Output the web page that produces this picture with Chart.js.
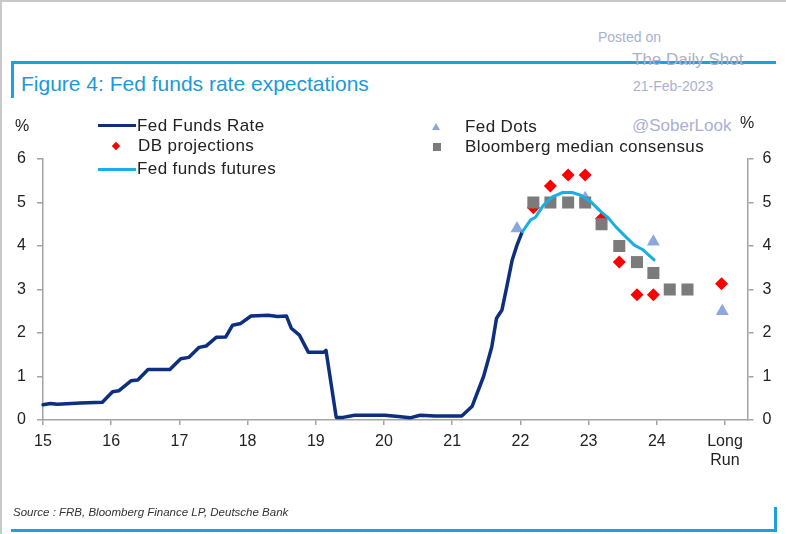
<!DOCTYPE html>
<html>
<head>
<meta charset="utf-8">
<script src="https://cdn.jsdelivr.net/npm/chart.js@4/dist/chart.umd.min.js"></script>
<style>
  html, body { margin: 0; padding: 0; background: #fff; }
  #wrap { position: relative; width: 786px; height: 534px; overflow: hidden; font-family: "Liberation Sans", Arial, sans-serif; }
  #c { position: absolute; left: 0; top: 0; }
  .t { position: absolute; white-space: nowrap; line-height: 1; }
  .bar { position: absolute; }
  .leg { font-size: 17px; color: #222; letter-spacing: 0.4px; }
  .wm { color: #aab0d2; }
</style>
</head>
<body>
<div id="wrap">
  <!-- outer light frame -->
  <div class="bar" style="left:0;top:0;width:786px;height:2px;background:#c8c8c8;"></div>
  <div class="bar" style="left:0;top:0;width:2px;height:534px;background:#c8c8c8;"></div>

  <!-- blue title frame -->
  <div class="bar" style="left:11px;top:61px;width:765px;height:3px;background:#1ba1e2;"></div>
  <div class="bar" style="left:11px;top:61px;width:3px;height:37px;background:#1ba1e2;"></div>
  <div class="t" style="left:21px;top:73px;font-size:21px;color:#1b9ad8;">Figure 4: Fed funds rate expectations</div>

  <!-- watermark -->
  <div class="t wm" style="left:598px;top:30px;font-size:14px;">Posted on</div>
  <div class="t wm" style="left:632px;top:51px;font-size:17px;">The Daily Shot</div>
  <div class="t wm" style="left:633px;top:79px;font-size:14px;">21-Feb-2023</div>
  <div class="t wm" style="left:632px;top:117px;font-size:17px;">@SoberLook</div>

  <canvas id="c" width="786" height="534"></canvas>

  <!-- unit labels -->
  <div class="t" style="left:15px;top:118px;font-size:16px;color:#222;">%</div>
  <div class="t" style="left:740px;top:115px;font-size:16px;color:#222;">%</div>

  <!-- legend -->
  <div class="bar" style="left:98px;top:124px;width:38px;height:3px;background:#0d2f7e;"></div>
  <div class="t leg" style="left:137px;top:117px;">Fed Funds Rate</div>
  <div class="bar" style="left:113px;top:143px;width:6px;height:6px;background:#ff0000;transform:rotate(45deg);"></div>
  <div class="t leg" style="left:138px;top:137px;">DB projections</div>
  <div class="bar" style="left:98px;top:168px;width:38px;height:3px;background:#1aaee8;"></div>
  <div class="t leg" style="left:137px;top:160px;">Fed funds futures</div>

  <div class="bar" style="left:432px;top:123px;width:0;height:0;border-left:4px solid transparent;border-right:4px solid transparent;border-bottom:7px solid #8ba7dd;"></div>
  <div class="t leg" style="left:465px;top:118px;">Fed Dots</div>
  <div class="bar" style="left:433px;top:143px;width:8px;height:8px;background:#7b7b7b;"></div>
  <div class="t leg" style="left:465px;top:138px;">Bloomberg median consensus</div>

  <!-- source and bottom frame -->
  <div class="t" style="left:13px;top:507px;font-size:11.5px;font-style:italic;color:#333;">Source : FRB, Bloomberg Finance LP, Deutsche Bank</div>
  <div class="bar" style="left:11px;top:529px;width:766px;height:3px;background:#1ba1e2;"></div>
  <div class="bar" style="left:774px;top:507px;width:3px;height:25px;background:#1ba1e2;"></div>
</div>

<script>
// ---------- data ----------
const xTickValues = [15, 16, 17, 18, 19, 20, 21, 22, 23, 24, 25];
const xTickLabels = ['15', '16', '17', '18', '19', '20', '21', '22', '23', '24', 'Long Run'];
const yTickValues = [0, 1, 2, 3, 4, 5, 6];

const ffrX = [15.0, 15.11, 15.21, 15.55, 15.87, 16.02, 16.11, 16.29, 16.39, 16.54, 16.86, 17.02, 17.14, 17.29, 17.39, 17.54, 17.68, 17.78, 17.90, 18.05, 18.30, 18.44, 18.57, 18.64, 18.76, 18.89, 19.12, 19.15, 19.30, 19.40, 19.57, 20.01, 20.21, 20.38, 20.53, 20.75, 21.14, 21.29, 21.46, 21.58, 21.65, 21.73, 21.80, 21.88, 21.95, 22.02];
const ffrY = [0.35, 0.38, 0.36, 0.39, 0.41, 0.65, 0.67, 0.90, 0.92, 1.16, 1.16, 1.41, 1.44, 1.67, 1.70, 1.90, 1.91, 2.18, 2.22, 2.39, 2.41, 2.38, 2.39, 2.11, 1.95, 1.56, 1.56, 1.60, 0.06, 0.06, 0.11, 0.11, 0.08, 0.05, 0.11, 0.09, 0.09, 0.31, 1.00, 1.68, 2.34, 2.53, 3.06, 3.68, 4.02, 4.30];

const futX = [22.03, 22.15, 22.22, 22.34, 22.47, 22.62, 22.76, 22.88, 23.03, 23.18, 23.28, 23.40, 23.52, 23.67, 23.79, 23.96];
const futY = [4.33, 4.60, 4.66, 4.94, 5.13, 5.23, 5.23, 5.17, 5.02, 4.79, 4.66, 4.44, 4.25, 4.02, 3.92, 3.68];

const dbX = [22.19, 22.44, 22.70, 22.95, 23.19, 23.45, 23.71, 23.95, 24.95];
const dbY = [4.88, 5.38, 5.63, 5.63, 4.63, 3.63, 2.88, 2.88, 3.13];

const bbX = [22.19, 22.44, 22.70, 22.95, 23.19, 23.45, 23.71, 23.95, 24.19, 24.45];
const bbY = [5.0, 5.0, 5.0, 5.0, 4.5, 4.0, 3.63, 3.38, 3.0, 3.0];

const dotX = [21.95, 22.95, 23.95, 24.96];
const dotY = [4.4, 5.1, 4.1, 2.5];

// ---------- chart ----------
const pts = (xs, ys) => xs.map((x, i) => ({ x: x, y: ys[i] }));
const FONT = '"Liberation Sans", Arial, sans-serif';
const AXIS = '#a3a3a3';

new Chart(document.getElementById('c'), {
  type: 'scatter',
  data: {
    datasets: [
      { label: 'Fed Funds Rate', data: pts(ffrX, ffrY), showLine: true, borderColor: '#0d2f7e', borderWidth: 3.5,
        pointRadius: 0, tension: 0, order: 1, borderJoinStyle: 'round', borderCapStyle: 'round' },
      { label: 'Fed funds futures', data: pts(futX, futY), showLine: true, borderColor: '#1aaee8', borderWidth: 3,
        pointRadius: 0, tension: 0, order: 0, borderJoinStyle: 'round', borderCapStyle: 'round' },
      { label: 'Bloomberg median consensus', data: pts(bbX, bbY), pointStyle: 'rect', pointRadius: 8.5,
        backgroundColor: '#7b7b7b', borderColor: '#7b7b7b', pointBorderWidth: 0, order: 2 },
      { label: 'DB projections', data: pts(dbX, dbY), pointStyle: 'rectRot', pointRadius: 6.5,
        backgroundColor: '#ff0000', borderColor: '#ff0000', pointBorderWidth: 0, order: 3 },
      { label: 'Fed Dots', data: pts(dotX, dotY), pointStyle: 'triangle', pointRadius: 7.5,
        backgroundColor: '#8ba7dd', borderColor: '#8ba7dd', pointBorderWidth: 0, order: 4 }
    ]
  },
  options: {
    responsive: false,
    animation: false,
    devicePixelRatio: 1,
    clip: false,
    layout: { padding: { top: 159, left: 0, right: 0, bottom: 0 } },
    plugins: { legend: { display: false }, tooltip: { enabled: false } },
    scales: {
      x: {
        type: 'linear', position: 'bottom', min: 15, max: 25.33,
        afterBuildTicks: s => { s.ticks = xTickValues.map(v => ({ value: v })); },
        afterFit: s => { s.height = 114; },
        grid: { display: true, drawOnChartArea: false, drawTicks: true, tickLength: 5, color: AXIS, lineWidth: 1.5 },
        border: { display: true, color: AXIS, width: 1.5 },
        ticks: {
          padding: 7, color: '#222', maxRotation: 0, autoSkip: false,
          font: { family: FONT, size: 16, lineHeight: 1.2 },
          callback: v => {
            const i = xTickValues.indexOf(v);
            const lab = i >= 0 ? xTickLabels[i] : '';
            return lab.indexOf(' ') >= 0 ? lab.split(' ') : lab;
          }
        }
      },
      y: {
        position: 'left', min: 0, max: 6,
        afterBuildTicks: s => { s.ticks = yTickValues.map(v => ({ value: v })); },
        afterFit: s => { s.width = 43; },
        grid: { display: true, drawOnChartArea: false, drawTicks: true, tickLength: 6, color: AXIS, lineWidth: 1.5 },
        border: { display: true, color: AXIS, width: 1.5 },
        ticks: { padding: 11, color: '#222', font: { family: FONT, size: 16 } }
      },
      y2: {
        position: 'right', min: 0, max: 6, display: true,
        afterBuildTicks: s => { s.ticks = yTickValues.map(v => ({ value: v })); },
        afterFit: s => { s.width = 38.5; },
        grid: { display: true, drawOnChartArea: false, drawTicks: true, tickLength: 6, color: AXIS, lineWidth: 1.5 },
        border: { display: true, color: AXIS, width: 1.5 },
        ticks: { padding: 9, color: '#222', font: { family: FONT, size: 16 } }
      }
    }
  }
});
</script>
</body>
</html>
